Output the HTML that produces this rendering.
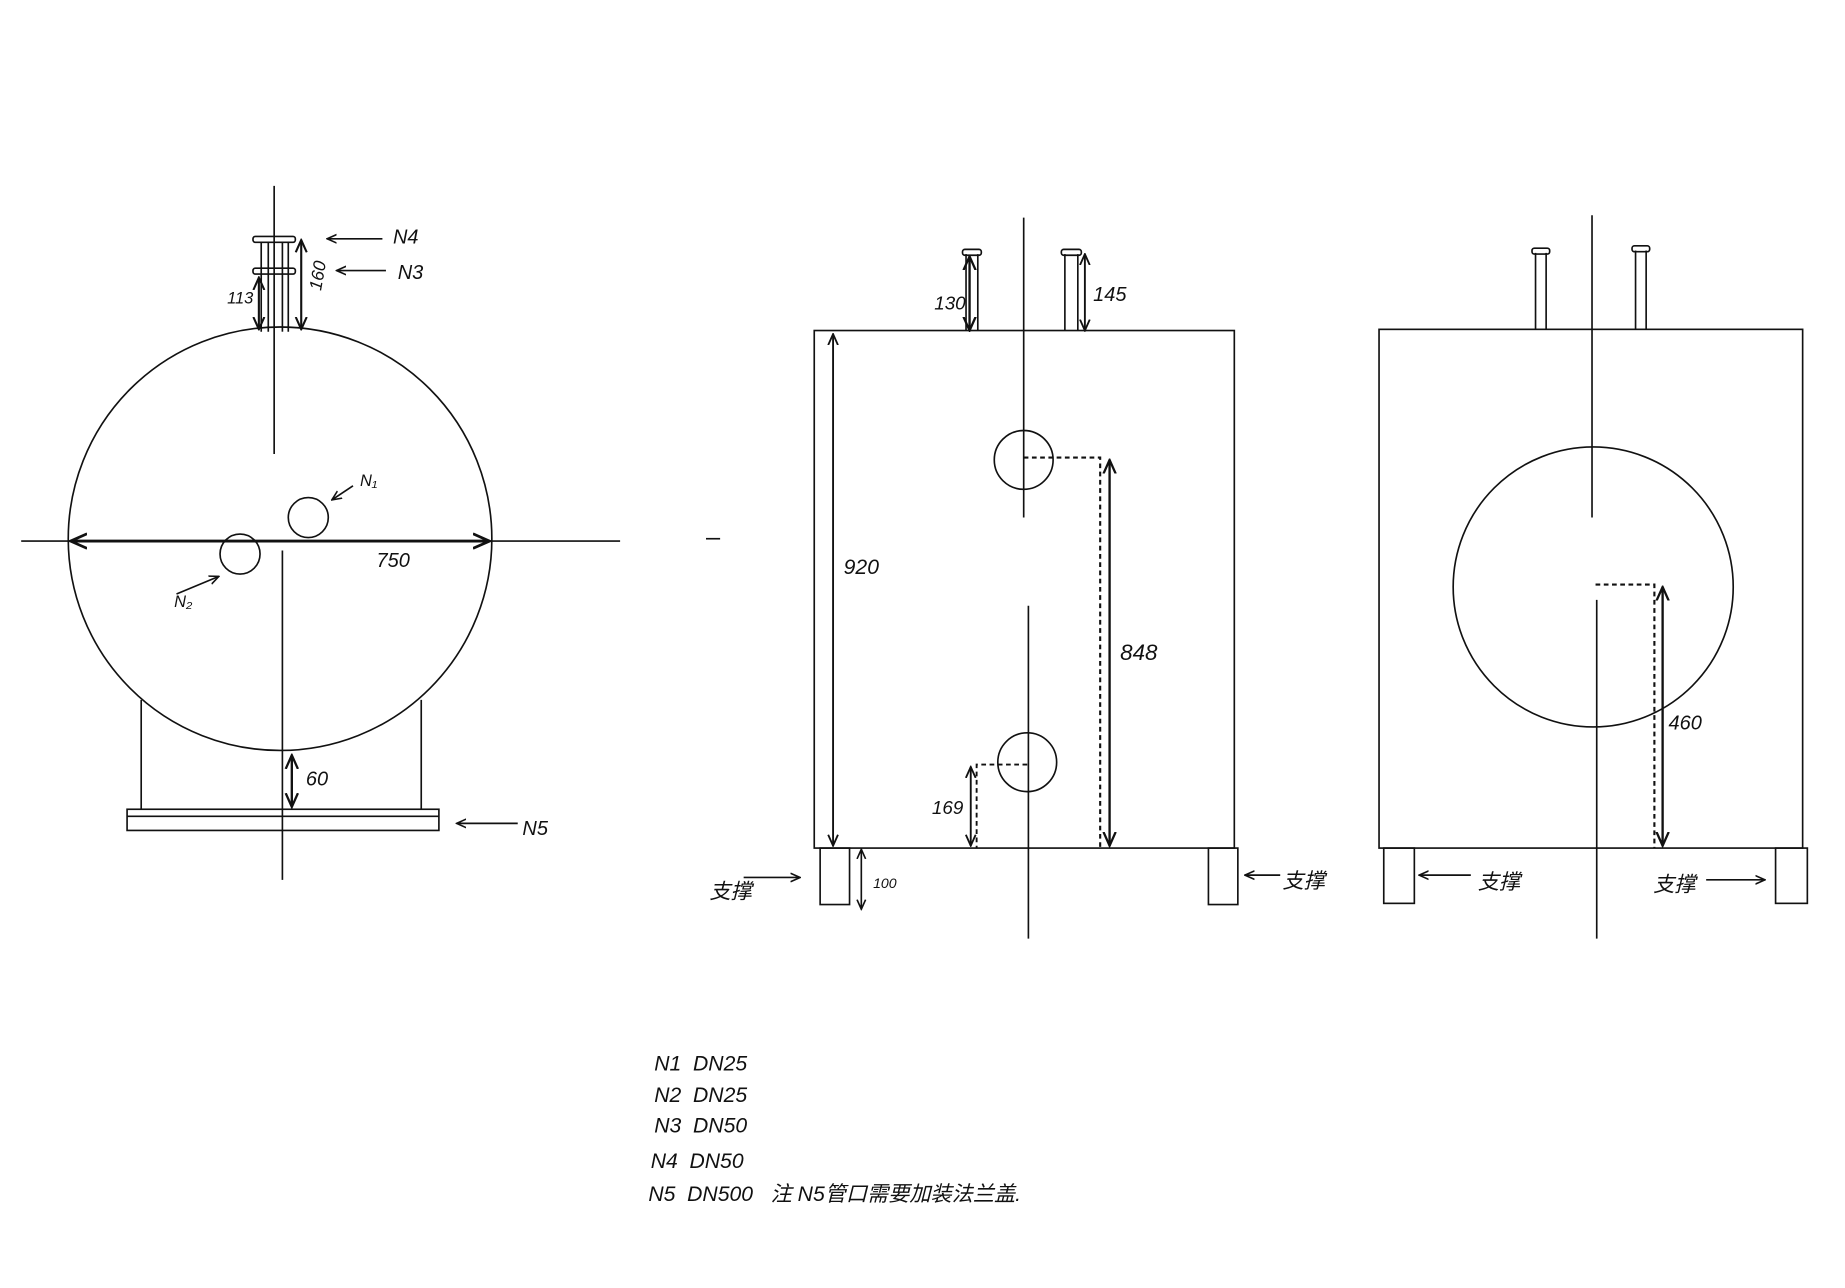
<!DOCTYPE html>
<html><head><meta charset="utf-8"><style>
html,body{margin:0;padding:0;background:#fff;}
svg{display:block}
text{font-family:"Liberation Sans","Noto Sans CJK SC",sans-serif;font-style:italic;fill:#111}
</style></head><body>
<svg width="1845" height="1288" viewBox="0 0 1568 1095" preserveAspectRatio="none" xmlns="http://www.w3.org/2000/svg">
<defs>
<marker id="a" viewBox="0 0 10 10" refX="9" refY="5" markerWidth="6.5" markerHeight="6.5" orient="auto-start-reverse"><path d="M0,1 L9,5 L0,9" fill="none" stroke="#111" stroke-width="1.5"/></marker>
</defs>
<g stroke="#111" stroke-width="1.4" fill="none">
<!-- LEFT VIEW -->
<circle cx="238" cy="458" r="180"/>
<line x1="233" y1="158" x2="233" y2="386"/>
<line x1="240" y1="468" x2="240" y2="748"/>
<line x1="18" y1="460" x2="527" y2="460"/>
<line x1="60" y1="460" x2="416" y2="460" stroke-width="2.4" marker-start="url(#a)" marker-end="url(#a)"/>
<circle cx="262" cy="440" r="17"/>
<circle cx="204" cy="471" r="17"/>
<line x1="120" y1="595" x2="120" y2="688"/>
<line x1="358" y1="595" x2="358" y2="688"/>
<rect x="108" y="688" width="265" height="18"/>
<line x1="108" y1="694" x2="373" y2="694"/>
<line x1="248" y1="642" x2="248" y2="686" stroke-width="2" marker-start="url(#a)" marker-end="url(#a)"/>
<line x1="440" y1="700" x2="388" y2="700" marker-end="url(#a)"/>
<!-- nozzle -->
<line x1="222" y1="206" x2="222" y2="282"/>
<line x1="245" y1="206" x2="245" y2="282"/>
<line x1="228" y1="206" x2="228" y2="282"/>
<line x1="240" y1="206" x2="240" y2="282"/>
<rect x="215" y="201" width="36" height="5" rx="2"/>
<rect x="215" y="228" width="36" height="5" rx="2"/>
<line x1="220" y1="236" x2="220" y2="280" stroke-width="1.8" marker-start="url(#a)" marker-end="url(#a)"/>
<line x1="256" y1="204" x2="256" y2="280" stroke-width="1.8" marker-start="url(#a)" marker-end="url(#a)"/>
<line x1="325" y1="203" x2="278" y2="203" marker-end="url(#a)"/>
<line x1="328" y1="230" x2="286" y2="230" marker-end="url(#a)"/>
<line x1="300" y1="413" x2="282" y2="425" marker-end="url(#a)"/>
<line x1="150" y1="505" x2="186" y2="490" marker-end="url(#a)"/>
<line x1="600" y1="458" x2="612" y2="458"/>
<!-- MIDDLE VIEW -->
<rect x="692" y="281" width="357" height="440"/>
<rect x="697" y="721" width="25" height="48"/>
<rect x="1027" y="721" width="25" height="48"/>
<line x1="870" y1="185" x2="870" y2="440"/>
<line x1="874" y1="515" x2="874" y2="798"/>
<line x1="821" y1="216" x2="821" y2="281"/><line x1="831" y1="216" x2="831" y2="281"/>
<rect x="818" y="212" width="16" height="5" rx="2"/>
<line x1="905" y1="216" x2="905" y2="281"/><line x1="916" y1="216" x2="916" y2="281"/>
<rect x="902" y="212" width="17" height="5" rx="2"/>
<line x1="824" y1="218" x2="824" y2="281" stroke-width="2" marker-start="url(#a)" marker-end="url(#a)"/>
<line x1="922" y1="216" x2="922" y2="281" stroke-width="1.6" marker-start="url(#a)" marker-end="url(#a)"/>
<circle cx="870" cy="391" r="25"/>
<circle cx="873" cy="648" r="25"/>
<polyline points="870,389 935,389 935,721" stroke-dasharray="4,3" stroke-width="1.8"/>
<line x1="943" y1="391" x2="943" y2="719" stroke-width="2" marker-start="url(#a)" marker-end="url(#a)"/>
<line x1="708" y1="284" x2="708" y2="719" stroke-width="1.6" marker-start="url(#a)" marker-end="url(#a)"/>
<polyline points="873,650 830,650 830,721" stroke-dasharray="4,3" stroke-width="1.6"/>
<line x1="825" y1="652" x2="825" y2="719" stroke-width="1.6" marker-start="url(#a)" marker-end="url(#a)"/>
<line x1="732" y1="722" x2="732" y2="773" marker-start="url(#a)" marker-end="url(#a)"/>
<line x1="632" y1="746" x2="680" y2="746" marker-end="url(#a)"/>
<line x1="1088" y1="744" x2="1058" y2="744" marker-end="url(#a)"/>
<!-- RIGHT VIEW -->
<rect x="1172" y="280" width="360" height="441"/>
<rect x="1176" y="721" width="26" height="47"/>
<rect x="1509" y="721" width="27" height="47"/>
<line x1="1353" y1="183" x2="1353" y2="440"/>
<line x1="1357" y1="510" x2="1357" y2="798"/>
<circle cx="1354" cy="499" r="119"/>
<line x1="1305" y1="215" x2="1305" y2="280"/><line x1="1314" y1="215" x2="1314" y2="280"/>
<rect x="1302" y="211" width="15" height="5" rx="2"/>
<line x1="1390" y1="213" x2="1390" y2="280"/><line x1="1399" y1="213" x2="1399" y2="280"/>
<rect x="1387" y="209" width="15" height="5" rx="2"/>
<polyline points="1356,497 1406,497 1406,721" stroke-dasharray="4,3" stroke-width="1.8"/>
<line x1="1413" y1="499" x2="1413" y2="719" stroke-width="2" marker-start="url(#a)" marker-end="url(#a)"/>
<line x1="1250" y1="744" x2="1206" y2="744" marker-end="url(#a)"/>
<line x1="1450" y1="748" x2="1500" y2="748" marker-end="url(#a)"/>
</g>
<g font-size="17">
<text x="334" y="207">N4</text>
<text x="338" y="237">N3</text>
<text x="193" y="258" font-size="14">113</text>
<text x="259" y="249" font-size="15" transform="rotate(-80 265 240)">160</text>
<text x="306" y="413" font-size="14">N₁</text>
<text x="148" y="516" font-size="14">N₂</text>
<text x="320" y="482">750</text>
<text x="260" y="668">60</text>
<text x="444" y="710">N5</text>
<text x="794" y="263" font-size="16">130</text>
<text x="929" y="256" font-size="17">145</text>
<text x="717" y="488" font-size="18">920</text>
<text x="952" y="561" font-size="19">848</text>
<text x="792" y="692" font-size="16">169</text>
<text x="742" y="755" font-size="12">100</text>
<text x="603" y="764" font-size="18">支撑</text>
<text x="1090" y="755" font-size="18">支撑</text>
<text x="1418" y="620" font-size="17">460</text>
<text x="1256" y="756" font-size="18">支撑</text>
<text x="1405" y="758" font-size="18">支撑</text>
</g>
<g font-size="18">
<text x="556" y="910">N1 &#160;DN25</text>
<text x="556" y="937">N2 &#160;DN25</text>
<text x="556" y="963">N3 &#160;DN50</text>
<text x="553" y="993">N4 &#160;DN50</text>
<text x="551" y="1021">N5 &#160;DN500 &#160; 注 N5管口需要加装法兰盖.</text>
</g>
</svg>
</body></html>
